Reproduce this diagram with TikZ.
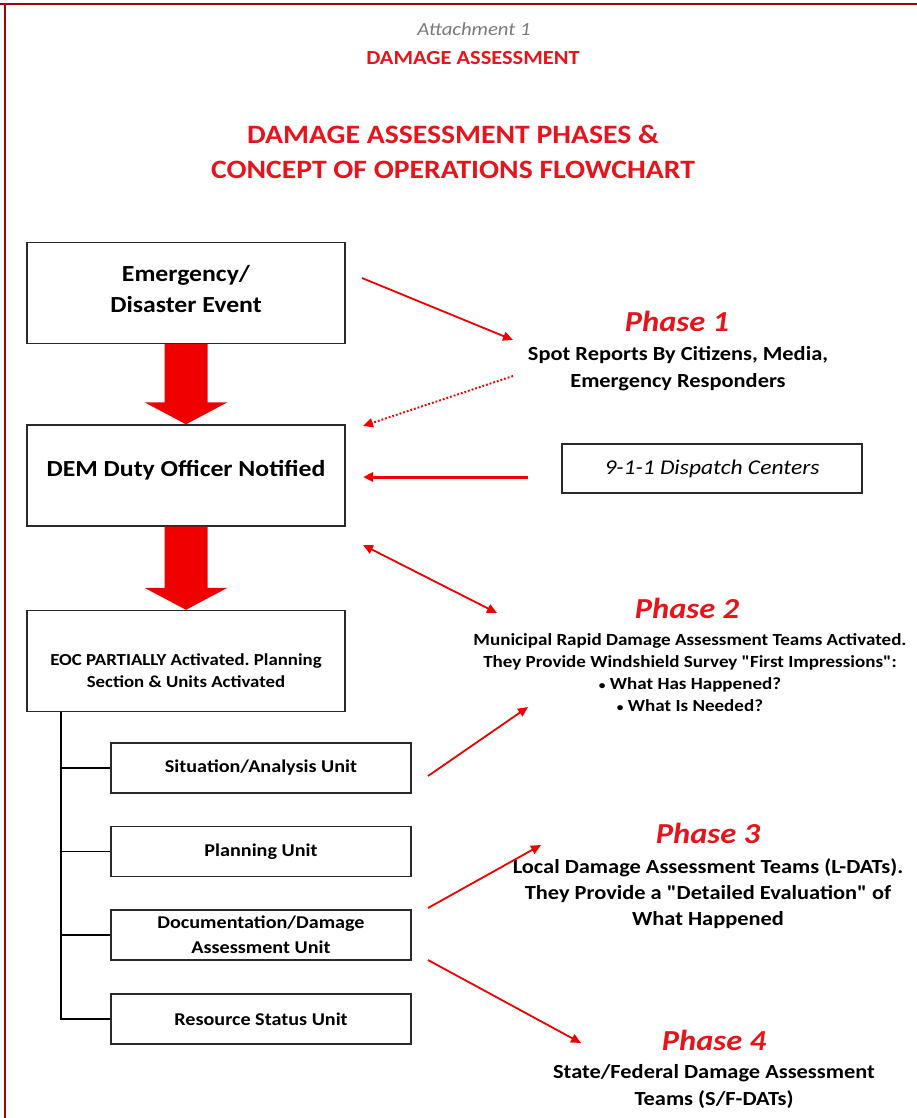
\documentclass[tikz,border=0pt]{standalone}
\usepackage{fontspec}
\setmainfont{Carlito}[FakeStretch=1.12]
% same face without TeX ligature mapping, for straight double quotes
\newfontfamily\plainquote{Carlito}[FakeStretch=1.12]
\usetikzlibrary{arrows.meta,calc}
\frenchspacing

\definecolor{framered}{HTML}{9B0A0A}
\definecolor{arrowred}{HTML}{F00000}
\definecolor{headred}{HTML}{E8141B}
\definecolor{notegray}{HTML}{7A7A7A}
\definecolor{boxline}{HTML}{2A2A2A}

\newcommand\fs[2]{\fontsize{#1}{#2}\selectfont}
\newcommand\dq{{\plainquote"}}
\newcommand\smallbullet{{\fontsize{12}{12}\selectfont\textbullet}}

% wide block arrow from one anchor (top) down to another (tip)
\newcommand\blockarrow[2]{%
  \fill[arrowred] ($(#1)+(-21.5,0)$) -- ($(#1)+(21.5,0)$) -- ($(#2)+(21.5,-22)$)
    -- ($(#2)+(41.5,-22)$) -- (#2) -- ($(#2)+(-41.5,-22)$) -- ($(#2)+(-21.5,-22)$) -- cycle;}

\tikzset{
  mainbox/.style={draw=boxline, line width=1.4pt, minimum width=318pt, minimum height=101pt, inner sep=0pt},
  unitbox/.style={draw=boxline, line width=1.4pt, minimum width=300pt, minimum height=50pt, inner sep=0pt,
    align=center, font=\bfseries\fs{18}{25}},
  boxtext/.style={align=center, inner sep=0pt, font=\bfseries\fs{23}{31}},
  phasetitle/.style={inner sep=0pt, text=headred, font=\bfseries\itshape\fs{29}{30}},
  phasetext/.style={align=center, inner sep=0pt},
  redarrow/.style={draw=arrowred, line width=1.8pt, -{Triangle[length=10pt,width=9pt]}},
  tree/.style={draw=black, line width=1.2pt},
}

\begin{document}
\begin{tikzpicture}[x=1pt,y=-1pt]
\useasboundingbox (0,0) rectangle (917,1118);
\fill[white] (0,0) rectangle (917,1118);

% page frame (top and left edges)
\draw[framered, line width=2pt] (0,4) -- (917,4);
\draw[framered, line width=2pt] (5,4) -- (5,1118);

% headings
\node[inner sep=0pt, text=notegray, font=\itshape\fs{18.5}{20}] (att) at (474,29) {Attachment 1};
\node[inner sep=0pt, text=headred, font=\bfseries\fs{20}{21}] (sect) at (473,58) {DAMAGE ASSESSMENT};
\node[inner sep=0pt, align=center, text=headred, font=\bfseries\fs{26.5}{35}] (title) at (453,152)
  {DAMAGE ASSESSMENT PHASES \&\\CONCEPT OF OPERATIONS FLOWCHART};

% left column
\node[mainbox] (b1) at (186,293) {};
\node[boxtext] (b1t) at (186,289) {Emergency/\\Disaster Event};
\node[mainbox] (b2) at (186,475.5) {};
\node[boxtext] (b2t) at (186,470) {DEM Duty Officer Notified};
\node[mainbox] (b3) at (186,661) {};
\node[boxtext, font=\bfseries\fs{16.8}{22}] (b3t) at (186,671) {EOC PARTIALLY Activated. Planning\\Section \& Units Activated};

\blockarrow{b1.south}{b2.north}
\blockarrow{b2.south}{b3.north}

% units of the planning section
\node[unitbox] (u1) at (261,768) {Situation/Analysis Unit};
\node[unitbox] (u2) at (261,851.5) {Planning Unit};
\node[unitbox] (u3) at (261,935) {Documentation/Damage\\Assessment Unit};
\node[unitbox] (u4) at (261,1019) {Resource Status Unit};

\coordinate (trunk) at (61,0);
\draw[tree] (b3.south -| trunk) -- (u4.west -| trunk) -- (u4.west);
\draw[tree] (u1.west -| trunk) -- (u1.west);
\draw[tree] (u2.west -| trunk) -- (u2.west);
\draw[tree] (u3.west -| trunk) -- (u3.west);

% dispatch centres
\node[draw=boxline, line width=1.4pt, minimum width=300pt, minimum height=49pt, inner sep=0pt,
  font=\itshape\fs{21}{22}] (disp) at (712,468.5) {9-1-1 Dispatch Centers};

% phase 1
\node[phasetitle] (p1) at (677,321) {Phase 1};
\node[phasetext, font=\bfseries\fs{20}{27}] (p1t) at (678,368.5)
  {Spot Reports By Citizens, Media,\\Emergency Responders};

% phase 2
\node[phasetitle] (p2) at (687,608) {Phase 2};
\node[phasetext, font=\bfseries\fs{17}{22}] (p2t) at (690,673)
  {Municipal Rapid Damage Assessment Teams Activated.\\They Provide Windshield Survey \dq First Impressions\dq:\\%
   \smallbullet\ What Has Happened?\\\smallbullet\ What Is Needed?};

% phase 3
\node[phasetitle] (p3) at (708,833) {Phase 3};
\node[phasetext, font=\bfseries\fs{20}{26}] (p3t) at (708,894)
  {Local Damage Assessment Teams (L-DATs).\\They Provide a \dq Detailed Evaluation\dq\ of\\What Happened};

% phase 4
\node[phasetitle] (p4) at (714,1040) {Phase 4};
\node[phasetext, font=\bfseries\fs{20}{27}] (p4t) at (714,1086.5)
  {State/Federal Damage Assessment\\Teams (S/F-DATs)};

% free arrow ends
\coordinate (a1s) at (362,278);  \coordinate (a1e) at (513,340);
\coordinate (a2s) at (513,376);  \coordinate (a2e) at (363,426);
\coordinate (a3s) at (528,477);  \coordinate (a3e) at (363,477);
\coordinate (a4s) at (363,545);  \coordinate (a4e) at (497,613);
\coordinate (a5s) at (428,776);  \coordinate (a5e) at (528,707);
\coordinate (a6s) at (428,908);  \coordinate (a6e) at (541,845);
\coordinate (a7s) at (428,960);  \coordinate (a7e) at (581,1043);

\draw[redarrow] (a1s) -- (a1e);
\draw[redarrow, dotted, line width=2pt] (a2s) -- (a2e);
\draw[redarrow, line width=3pt] (a3s) -- (a3e);
\draw[redarrow, {Triangle[length=10pt,width=9pt]}-{Triangle[length=10pt,width=9pt]}] (a4s) -- (a4e);
\draw[redarrow] (a5s) -- (a5e);
\draw[redarrow] (a6s) -- (a6e);
\draw[redarrow] (a7s) -- (a7e);
\end{tikzpicture}
\end{document}
